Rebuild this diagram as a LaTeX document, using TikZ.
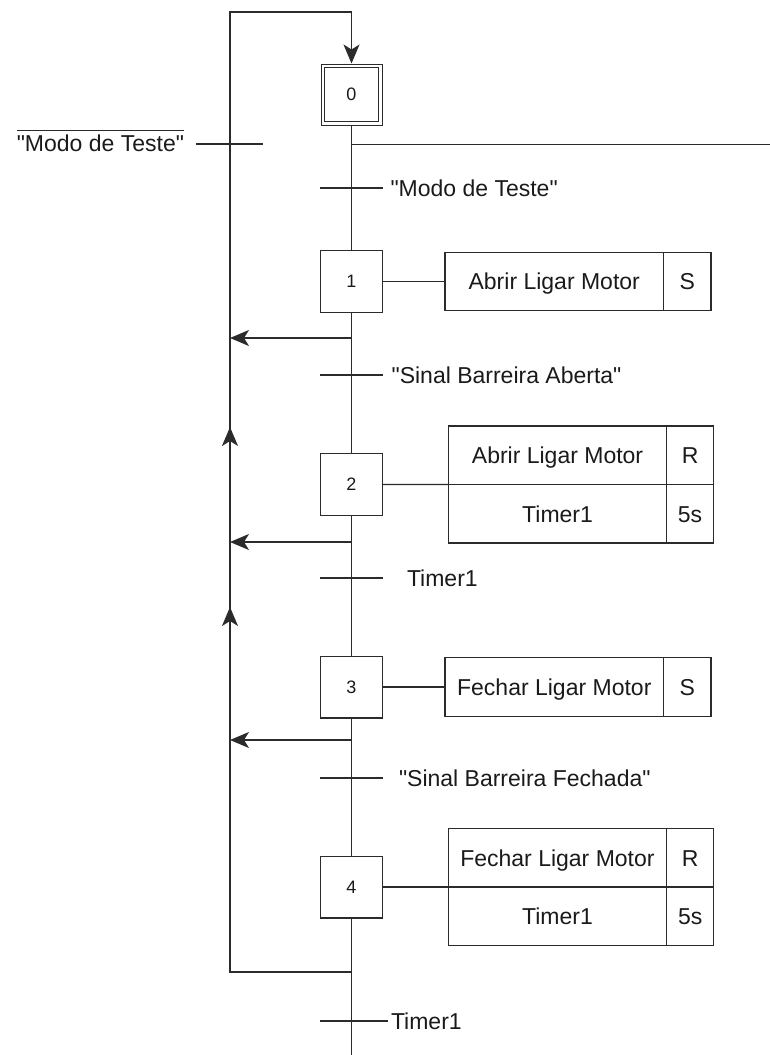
\documentclass[tikz,border=0pt]{standalone}
\usepackage{fontspec}
\setmainfont{Liberation Sans}[Ligatures=TeXOff]
\usetikzlibrary{arrows.meta,calc}
\definecolor{linecol}{HTML}{2B2B2B}
\definecolor{txtcol}{HTML}{1A1A1A}
\begin{document}
\begin{tikzpicture}[x=1pt,y=-1pt,
  line width=1.1pt, draw=linecol,
  stepbox/.style={draw=linecol, line width=1.2pt, minimum size=61.8pt, inner sep=0pt, outer sep=0pt, text=txtcol, font=\fontsize{18}{20}\selectfont},
  initbox/.style={stepbox, double, double distance=2.3pt, line width=1pt, minimum size=57.7pt},
  cell/.style={draw=linecol, line width=1.2pt, inner sep=0pt, outer sep=0pt, text=txtcol, font=\fontsize{23}{27}\selectfont, minimum height=58.4pt, text height=16.5pt, text depth=0pt},
  lbl/.style={anchor=west, inner sep=0pt, outer sep=0pt, text=txtcol, font=\fontsize{23}{27}\selectfont, text height=16.5pt, text depth=0pt},
  arr/.style={-{Stealth[length=19pt,width=16pt,inset=5pt]}},
  tickline/.style={draw=linecol, line width=1.1pt},
  boldline/.style={line width=1.6pt}
]
\useasboundingbox (0,0) rectangle (770,1055);

% steps
\node[initbox] (s0) at (351.5,94.5) {0};
\node[stepbox] (s1) at (351.5,281.5) {1};
\node[stepbox] (s2) at (351.5,484.5) {2};
\node[stepbox] (s3) at (351.5,687) {3};
\node[stepbox] (s4) at (351.5,887) {4};

% actions
\node[cell, minimum width=218.5pt] (a1t) at (554.25,281.5) {Abrir Ligar Motor};
\node[cell, minimum width=47.5pt] (a1q) at (687.25,281.5) {S};
\node[cell, minimum width=218.3pt] (a2t) at (557.55,455.25) {Abrir Ligar Motor};
\node[cell, minimum width=46.8pt] (a2q) at (690.1,455.25) {R};
\node[cell, minimum width=218.3pt] (a2u) at (557.55,513.75) {Timer1};
\node[cell, minimum width=46.8pt] (a2v) at (690.1,513.75) {5s};
\node[cell, minimum width=218.6pt] (a3t) at (554.3,687) {Fechar Ligar Motor};
\node[cell, minimum width=47.4pt] (a3q) at (687.3,687) {S};
\node[cell, minimum width=218.1pt] (a4t) at (557.45,857.8) {Fechar Ligar Motor};
\node[cell, minimum width=47.3pt] (a4q) at (690.15,857.8) {R};
\node[cell, minimum width=218.1pt] (a4u) at (557.45,916.2) {Timer1};
\node[cell, minimum width=47.3pt] (a4v) at (690.15,916.2) {5s};

% coordinates
\coordinate (top) at (351.5,12);
\coordinate (topL) at (230,12);
\coordinate (botL) at (230,972);
\coordinate (j4) at (351.5,972);
\coordinate (end) at (351.5,1055);
\coordinate (jd) at (351.5,144.5);
\coordinate (rd) at (770,144.5);
\coordinate (j1) at (351.5,338);
\coordinate (l1) at (230,338);
\coordinate (j2) at (351.5,542);
\coordinate (l2) at (230,542);
\coordinate (j3) at (351.5,740);
\coordinate (l3) at (230,740);
\coordinate (u1s) at (230,545);
\coordinate (u1e) at (230,427);
\coordinate (u2s) at (230,803);
\coordinate (u2e) at (230,607);
\coordinate (t0) at (230,144);
\coordinate (t1) at (351.5,188);
\coordinate (t2) at (351.5,375);
\coordinate (t3) at (351.5,578);
\coordinate (t4) at (351.5,778);
\coordinate (t5) at (351.5,1021);

% main line
\draw ([yshift=-2.15pt]s0.south) -- (s1.north);
\draw (s1.south) -- (s2.north);
\draw (s2.south) -- (s3.north);
\draw (s3.south) -- (s4.north);
\draw (s4.south) -- (end);
\draw (jd) -- (rd);

% action links
\draw (s1.east) -- (a1t.west);
\draw (s2.east) -- (a2t.south west);
\draw (s3.east) -- (a3t.west);
\draw (s4.east) -- (a4t.south west);

% loop back
\draw[arr] (j4) -- (botL) -- (topL) -- (top) -- ([yshift=2.15pt]s0.north);
\draw[arr] (j1) -- (l1);
\draw[arr] (j2) -- (l2);
\draw[arr] (j3) -- (l3);
\draw[arr, boldline] (u1s) -- (u1e);
\draw[arr, boldline] (u2s) -- (u2e);

% transitions
\draw[tickline] ($(t0)+(-34.5,0)$) -- ($(t0)+(32.8,0)$);
\draw[tickline] ($(t1)+(-31.5,0)$) -- ($(t1)+(31.5,0)$);
\draw[tickline] ($(t2)+(-31.5,0)$) -- ($(t2)+(31.5,0)$);
\draw[tickline] ($(t3)+(-31.5,0)$) -- ($(t3)+(31.5,0)$);
\draw[tickline] ($(t4)+(-31.5,0)$) -- ($(t4)+(31.5,0)$);
\draw[tickline] ($(t5)+(-31.5,0)$) -- ($(t5)+(36.5,0)$);

% labels
\node[lbl, anchor=east] (m0) at (184,143) {"Modo de Teste"};
\draw[line width=1pt] ([yshift=4pt]m0.north west) -- ([yshift=4pt]m0.north east);
\node[lbl] (m1) at (390.5,188) {"Modo de Teste"};
\node[lbl] (m2) at (391.6,375) {"Sinal Barreira Aberta"};
\node[lbl] (m3) at (407,578) {Timer1};
\node[lbl] (m4) at (399,778) {"Sinal Barreira Fechada"};
\node[lbl] (m5) at (391,1021) {Timer1};
\end{tikzpicture}
\end{document}
